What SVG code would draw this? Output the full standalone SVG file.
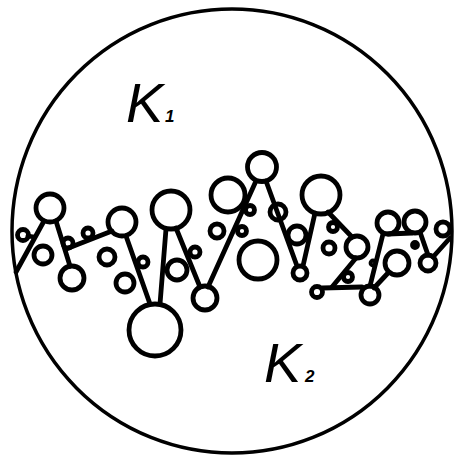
<svg xmlns="http://www.w3.org/2000/svg" width="458" height="459" viewBox="0 0 458 459">
<style>
.o{fill:none;stroke:#000;stroke-width:3.5}
.c circle{fill:none;stroke:#000;stroke-width:4.8}
.l line{stroke:#000;stroke-width:4.8;stroke-linecap:round}
.k{font-family:"Liberation Sans",Arial,sans-serif;font-style:italic;fill:#000}
</style>
<rect width="458" height="459" fill="#fff"/>
<ellipse class="o" cx="232" cy="231" rx="220" ry="222"/>
<g id="connectors" class="l">
<line x1="16" y1="272" x2="44" y2="221"/>
<line x1="56" y1="221" x2="70" y2="266"/>
<line x1="66" y1="249" x2="112" y2="231"/>
<line x1="126" y1="236" x2="150" y2="304"/>
<line x1="160" y1="304" x2="166" y2="229"/>
<line x1="176" y1="228" x2="200" y2="287"/>
<line x1="208" y1="287" x2="256" y2="181"/>
<line x1="266" y1="181" x2="297" y2="266"/>
<line x1="303" y1="266" x2="315" y2="213"/>
<line x1="328" y1="212" x2="352" y2="237"/>
<line x1="383" y1="234" x2="370" y2="286"/>
<line x1="388" y1="234" x2="412" y2="233"/>
<line x1="420" y1="232" x2="428" y2="255"/>
<line x1="433" y1="257" x2="450" y2="238"/>
<line x1="322" y1="288" x2="362" y2="287"/>
<line x1="332" y1="287" x2="356" y2="258"/>
<line x1="374" y1="288" x2="388" y2="273"/>
<line x1="28" y1="236" x2="34" y2="237"/>
</g>
<g id="cells" class="c">
<circle cx="50" cy="208" r="14"/>
<circle cx="122" cy="222" r="14"/>
<circle cx="171" cy="210" r="19"/>
<circle cx="228" cy="195" r="17"/>
<circle cx="262" cy="167" r="14.5"/>
<circle cx="321" cy="195" r="19"/>
<circle cx="388" cy="223" r="11"/>
<circle cx="415" cy="222" r="11"/>
<circle cx="72" cy="278" r="12"/>
<circle cx="155" cy="330" r="26"/>
<circle cx="205" cy="298" r="12"/>
<circle cx="300" cy="273" r="7"/>
<circle cx="258" cy="260" r="19"/>
<circle cx="23" cy="235" r="5.5"/>
<circle cx="43" cy="255" r="9"/>
<circle cx="68" cy="243" r="5"/>
<circle cx="88" cy="233" r="5"/>
<circle cx="107" cy="257" r="8"/>
<circle cx="125" cy="283" r="9"/>
<circle cx="143" cy="262" r="5"/>
<circle cx="177" cy="270" r="10"/>
<circle cx="195" cy="252" r="5"/>
<circle cx="217" cy="231" r="7"/>
<circle cx="250" cy="210" r="4.5"/>
<circle cx="242" cy="231" r="4.5"/>
<circle cx="278" cy="212" r="8"/>
<circle cx="297" cy="235" r="9"/>
<circle cx="333" cy="227" r="4.5"/>
<circle cx="329" cy="248" r="6"/>
<circle cx="357" cy="247" r="11"/>
<circle cx="348" cy="277" r="4.5"/>
<circle cx="317" cy="292" r="5.5"/>
<circle cx="370" cy="295" r="9"/>
<circle cx="397" cy="263" r="12"/>
<circle cx="428" cy="263" r="8"/>
<circle cx="443" cy="229" r="7"/>
<circle cx="415" cy="245" r="2.5"/>
<circle cx="373" cy="263" r="2"/>
</g>
<g id="K1"><text class="k" x="126" y="122" font-size="56">K</text><text class="k" x="165" y="122" font-size="17" font-weight="bold">1</text></g>
<g id="K2"><text class="k" x="264" y="382" font-size="56">K</text><text class="k" x="305" y="382" font-size="17" font-weight="bold">2</text></g>
</svg>
